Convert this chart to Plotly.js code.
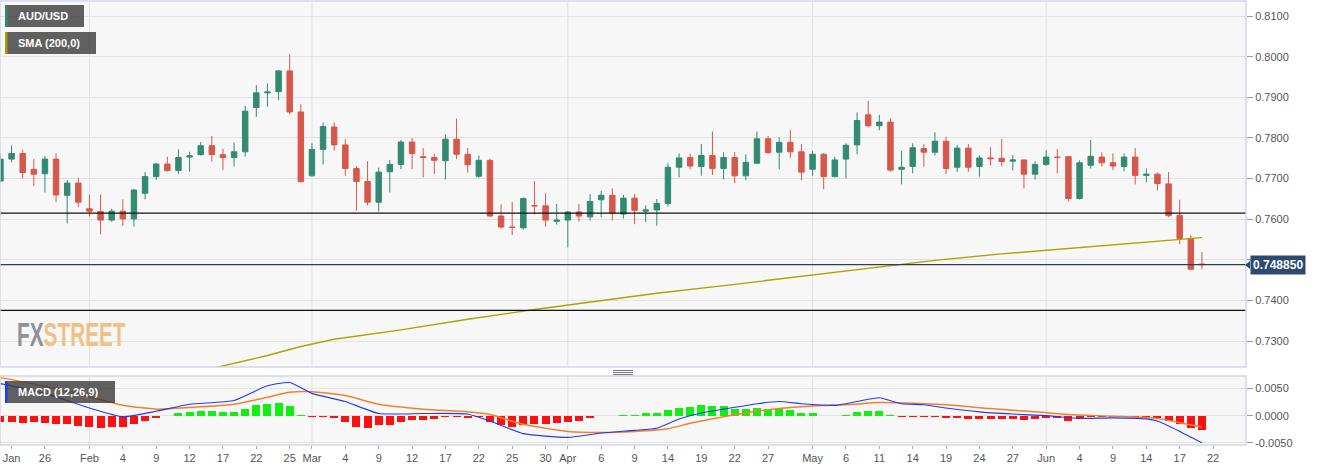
<!DOCTYPE html>
<html><head><meta charset="utf-8">
<script src="https://cdn.plot.ly/plotly-3.0.1.min.js"></script>
<style>html,body{margin:0;padding:0;background:#fff;}#chart{width:1323px;height:471px;}</style>
</head><body><div id="chart"></div>
<script>
// ---------- DATA ----------
const dates = ['2021-01-20','2021-01-21','2021-01-22','2021-01-25','2021-01-26','2021-01-27','2021-01-28','2021-01-29',
'2021-02-01','2021-02-02','2021-02-03','2021-02-04','2021-02-05','2021-02-08','2021-02-09','2021-02-10','2021-02-11','2021-02-12',
'2021-02-15','2021-02-16','2021-02-17','2021-02-18','2021-02-19','2021-02-22','2021-02-23','2021-02-24','2021-02-25','2021-02-26',
'2021-03-01','2021-03-02','2021-03-03','2021-03-04','2021-03-05','2021-03-08','2021-03-09','2021-03-10','2021-03-11','2021-03-12',
'2021-03-15','2021-03-16','2021-03-17','2021-03-18','2021-03-19','2021-03-22','2021-03-23','2021-03-24','2021-03-25','2021-03-26',
'2021-03-29','2021-03-30','2021-03-31','2021-04-01','2021-04-02','2021-04-05','2021-04-06','2021-04-07','2021-04-08','2021-04-09',
'2021-04-12','2021-04-13','2021-04-14','2021-04-15','2021-04-16','2021-04-19','2021-04-20','2021-04-21','2021-04-22','2021-04-23',
'2021-04-26','2021-04-27','2021-04-28','2021-04-29','2021-04-30','2021-05-03','2021-05-04','2021-05-05','2021-05-06','2021-05-07',
'2021-05-10','2021-05-11','2021-05-12','2021-05-13','2021-05-14','2021-05-17','2021-05-18','2021-05-19','2021-05-20','2021-05-21',
'2021-05-24','2021-05-25','2021-05-26','2021-05-27','2021-05-28','2021-05-31','2021-06-01','2021-06-02','2021-06-03','2021-06-04',
'2021-06-07','2021-06-08','2021-06-09','2021-06-10','2021-06-11','2021-06-14','2021-06-15','2021-06-16','2021-06-17','2021-06-18',
'2021-06-21'];

const openP = [.7694,.7748,.7762,.7723,.7712,.7748,.7659,.7689,
.7626,.7619,.7598,.7620,.7601,.7664,.7705,.7736,.7720,.7753,
.7759,.7781,.7759,.7752,.7766,.7875,.7911,.7914,.7965,.7864,
.7707,.7772,.7827,.7783,.7725,.7693,.7642,.7717,.7735,.7790,
.7754,.7752,.7744,.7797,.7760,.7706,.7745,.7608,.7581,.7579,
.7634,.7633,.7595,.7598,.7618,.7606,.7648,.7659,.7613,.7652,
.7620,.7623,.7639,.7728,.7752,.7730,.7757,.7725,.7752,.7707,
.7738,.7798,.7765,.7789,.7766,.7723,.7760,.7705,.7748,.7783,
.7857,.7830,.7839,.7723,.7730,.7774,.7765,.7792,.7728,.7775,
.7730,.7751,.7750,.7743,.7746,.7711,.7735,.7753,.7754,.7651,
.7733,.7753,.7739,.7730,.7753,.7708,.7711,.7687,.7610,.7553,
.7490];
const highP = [.7762,.7782,.7770,.7748,.7756,.7762,.7697,.7702,
.7661,.7661,.7626,.7649,.7674,.7716,.7739,.7754,.7772,.7766,
.7790,.7805,.7773,.7789,.7879,.7930,.7934,.7967,.8006,.7883,
.7787,.7838,.7838,.7797,.7731,.7743,.7727,.7746,.7795,.7800,
.7775,.7761,.7809,.7848,.7775,.7757,.7749,.7637,.7643,.7654,
.7694,.7664,.7638,.7620,.7638,.7662,.7670,.7676,.7660,.7662,
.7634,.7650,.7738,.7762,.7761,.7785,.7816,.7765,.7765,.7760,
.7816,.7805,.7802,.7820,.7785,.7768,.7763,.7754,.7787,.7863,
.7891,.7857,.7848,.7768,.7787,.7785,.7814,.7803,.7783,.7785,
.7757,.7777,.7797,.7758,.7746,.7743,.7770,.7773,.7756,.7745,
.7795,.7765,.7762,.7762,.7775,.7725,.7715,.7716,.7648,.7561,
.7520];
const lowP = [.7690,.7740,.7701,.7682,.7666,.7642,.7590,.7630,
.7607,.7563,.7594,.7584,.7582,.7649,.7697,.7717,.7711,.7717,
.7757,.7742,.7721,.7730,.7754,.7852,.7877,.7893,.7858,.7690,
.7705,.7735,.7769,.7707,.7621,.7634,.7619,.7666,.7723,.7723,
.7703,.7711,.7698,.7748,.7715,.7702,.7607,.7577,.7561,.7575,
.7612,.7582,.7587,.7531,.7594,.7597,.7605,.7597,.7602,.7588,
.7593,.7584,.7631,.7703,.7723,.7707,.7709,.7698,.7689,.7696,
.7736,.7760,.7723,.7751,.7696,.7707,.7674,.7703,.7701,.7760,
.7826,.7819,.7717,.7686,.7713,.7729,.7757,.7711,.7716,.7717,
.7705,.7732,.7730,.7720,.7676,.7698,.7731,.7713,.7644,.7649,
.7725,.7730,.7721,.7718,.7686,.7691,.7671,.7605,.7539,.7477,
.7477];
const closeP = [.7748,.7762,.7715,.7711,.7748,.7660,.7689,.7642,
.7620,.7598,.7620,.7601,.7672,.7705,.7736,.7720,.7752,.7756,
.7781,.7759,.7752,.7766,.7866,.7911,.7913,.7965,.7864,.7693,
.7772,.7828,.7783,.7725,.7693,.7642,.7716,.7735,.7790,.7762,
.7752,.7745,.7797,.7760,.7734,.7745,.7608,.7581,.7580,.7651,
.7633,.7598,.7598,.7618,.7608,.7644,.7659,.7615,.7652,.7622,
.7623,.7639,.7728,.7751,.7731,.7757,.7725,.7752,.7707,.7740,
.7798,.7764,.7789,.7766,.7716,.7760,.7705,.7746,.7782,.7843,
.7830,.7839,.7721,.7728,.7776,.7765,.7792,.7725,.7775,.7728,
.7751,.7749,.7742,.7746,.7711,.7735,.7753,.7752,.7651,.7739,
.7755,.7739,.7731,.7753,.7708,.7711,.7688,.7609,.7553,.7477,
.74885];

const smaDates  = ['2021-02-11','2021-02-16','2021-02-23','2021-02-26','2021-03-03','2021-03-11','2021-03-19','2021-03-29','2021-04-06',
                   '2021-04-13','2021-04-22','2021-04-30','2021-05-10','2021-05-18','2021-05-26','2021-06-03','2021-06-11','2021-06-21'];
const smaValues = [0.7214,0.7233,0.7265,0.7287,0.7305,0.7328,0.7354,0.7378,0.7400,
                   0.7418,0.7440,0.7460,0.7480,0.7499,0.7515,0.7528,0.7541,0.7555];

const macdDates = ['2021-01-20','2021-01-26','2021-02-01','2021-02-04','2021-02-09','2021-02-12','2021-02-18','2021-02-23','2021-02-25',
  '2021-03-01','2021-03-04','2021-03-09','2021-03-15','2021-03-19','2021-03-23','2021-03-26','2021-04-01','2021-04-06','2021-04-09',
  '2021-04-13','2021-04-15','2021-04-19','2021-04-21','2021-04-26','2021-04-28','2021-04-30','2021-05-05','2021-05-07','2021-05-11',
  '2021-05-13','2021-05-17','2021-05-19','2021-05-24','2021-05-27','2021-06-01','2021-06-04','2021-06-09','2021-06-14','2021-06-15',
  '2021-06-17','2021-06-21'];
const macdValues = [0.0059,0.0041,0.0014,-0.0002,0.0008,0.0021,0.0028,0.0055,0.0061,
  0.0041,0.0026,0.0004,0.0004,0.0003,-0.0010,-0.0033,-0.0040,-0.0032,-0.0027,
  -0.0023,-0.0006,0.0005,0.0012,0.0022,0.0026,0.0022,0.0019,0.0026,0.0033,
  0.0022,0.0020,0.0014,0.0007,0.0003,0.0000,-0.0005,-0.0004,-0.0006,-0.0010,
  -0.0029,-0.0050];

const signalDates = ['2021-01-20','2021-01-26','2021-02-01','2021-02-04','2021-02-09','2021-02-12','2021-02-18','2021-02-23','2021-02-25',
  '2021-03-01','2021-03-04','2021-03-09','2021-03-15','2021-03-19','2021-03-23','2021-03-26','2021-04-01','2021-04-06','2021-04-09',
  '2021-04-14','2021-04-16','2021-04-21','2021-04-26','2021-04-28','2021-05-03','2021-05-06','2021-05-11','2021-05-14','2021-05-19',
  '2021-05-25','2021-05-31','2021-06-03','2021-06-09','2021-06-15','2021-06-17','2021-06-21'];
const signalValues = [0.0070,0.0054,0.0035,0.0019,0.0012,0.0015,0.0021,0.0034,0.0043,
  0.0044,0.0037,0.0021,0.0012,0.0007,0.0002,-0.0016,-0.0029,-0.0031,-0.0029,
  -0.0024,-0.0014,-0.0002,0.0008,0.0013,0.0018,0.0020,0.0024,0.0023,0.0020,
  0.0013,0.0007,0.0002,-0.0001,-0.0005,-0.0013,-0.0021];

const histValues = [-0.0011,-0.0011,-0.0013,-0.0012,-0.0013,-0.0016,-0.0016,-0.0019,-0.0021,-0.0023,
 -0.0021,-0.0021,-0.0016,-0.0010,-0.0004,-0.0001,0.0004,0.0006,0.0009,0.0009,
 0.0007,0.0007,0.0012,0.0020,0.0021,0.0024,0.0018,0.0002,-0.0003,-0.0003,
 -0.0005,-0.0012,-0.0020,-0.0023,-0.0017,-0.0017,-0.0011,-0.0008,-0.0008,-0.0006,
 -0.0003,-0.0003,-0.0004,-0.0003,-0.0012,-0.0018,-0.0021,-0.0017,-0.0016,-0.0015,
 -0.0014,-0.0011,-0.0009,-0.0005,-0.0001,-0.0001,0.0002,0.0002,0.0004,0.0004,
 0.0010,0.0015,0.0016,0.0019,0.0018,0.0018,0.0012,0.0012,0.0015,0.0012,
 0.0012,0.0010,0.0005,0.0005,-0.0001,-0.0001,0.0002,0.0006,0.0009,0.0009,
 0.0002,-0.0002,-0.0002,-0.0002,-0.0002,-0.0005,-0.0005,-0.0006,-0.0006,-0.0006,
 -0.0006,-0.0006,-0.0008,-0.0006,-0.0005,-0.0005,-0.0009,-0.0006,-0.0003,-0.0003,
 -0.0003,-0.0003,-0.0003,-0.0003,-0.0005,-0.0009,-0.0016,-0.0023,-0.0027];

const levelLines = [0.7615, 0.7376];
const lastPrice = 0.74885;

const tickDates = ['2021-01-21','2021-01-26','2021-02-01','2021-02-04','2021-02-09','2021-02-12','2021-02-17','2021-02-22','2021-02-25',
  '2021-03-01','2021-03-04','2021-03-09','2021-03-12','2021-03-17','2021-03-22','2021-03-25','2021-03-30','2021-04-01','2021-04-06',
  '2021-04-09','2021-04-14','2021-04-19','2021-04-22','2021-04-27','2021-05-03','2021-05-06','2021-05-11','2021-05-14','2021-05-19',
  '2021-05-24','2021-05-27','2021-06-01','2021-06-04','2021-06-09','2021-06-14','2021-06-17','2021-06-22'];
const tickLabels = ['Jan','26','Feb','4','9','12','17','22','25',
  'Mar','4','9','12','17','22','25','30','Apr','6',
  '9','14','19','22','27','May','6','11','14','19',
  '24','27','Jun','4','9','14','17','22'];
const monthStarts = ['2021-02-01','2021-03-01','2021-04-01','2021-05-03','2021-06-01'];

const mainTicks = [0.73,0.74,0.75,0.76,0.77,0.78,0.79,0.80,0.81];
const macdTicks = [-0.005,0,0.005];

// ---------- helpers ----------
function tIdx(s){
  const [y0,m0,d0] = dates[0].split('-').map(Number);
  const base = Date.UTC(y0,m0-1,d0);
  const [y,m,d] = s.split('-').map(Number);
  const t = Date.UTC(y,m-1,d);
  let n = 0;
  for(let x=base; x<t; x+=864e5){
    const wd = new Date(x+864e5).getUTCDay();
    if(wd!==0 && wd!==6) n++;
  }
  return n;
}
const W = 1323, H = 471, ML = 0, MR = 77, MT = 1, MB = 26;
const PW = W-ML-MR, PH = H-MT-MB;
const px2x = p => (p-ML)/PW;
const py2y = p => (H-MB-p)/PH;

const mainDom = [py2y(367), 1];
const macdDom = [0, py2y(376)];

const xi = dates.map(tIdx);
const FONT = 'Liberation Sans, Arial, sans-serif';

// ---------- traces ----------
const candle = {
  type:'candlestick', x:xi, open:openP, high:highP, low:lowP, close:closeP,
  xaxis:'x', yaxis:'y', whiskerwidth:0,
  increasing:{line:{color:'#338a72',width:1}, fillcolor:'#338a72'},
  decreasing:{line:{color:'#d6584a',width:1}, fillcolor:'#d6584a'},
  hoverinfo:'skip'
};
const sma = {type:'scatter', mode:'lines', x:smaDates.map(tIdx), y:smaValues, xaxis:'x', yaxis:'y',
  line:{color:'#b3a100', width:1.4}, hoverinfo:'skip'};
const hist = {type:'bar', x:xi, y:histValues, xaxis:'x', yaxis:'y2', width:0.72,
  marker:{color:histValues.map(v=>v>=0?'#11ee11':'#ff1010'), line:{width:0}}, hoverinfo:'skip'};
const signal = {type:'scatter', mode:'lines', x:signalDates.map(tIdx), y:signalValues, xaxis:'x', yaxis:'y2',
  line:{color:'#f57f2a', width:1.5, shape:'spline', smoothing:0.6}, hoverinfo:'skip'};
const macd = {type:'scatter', mode:'lines', x:macdDates.map(tIdx), y:macdValues, xaxis:'x', yaxis:'y2',
  line:{color:'#1f3cf0', width:1.1, shape:'spline', smoothing:0.5}, hoverinfo:'skip'};

// ---------- shapes ----------
const shapes = [];
monthStarts.forEach(d=>{
  const x = tIdx(d);
  shapes.push({type:'line', xref:'x', x0:x, x1:x, yref:'paper', y0:mainDom[0], y1:mainDom[1], line:{color:'#e2e2e2',width:1}, layer:'below'});
  shapes.push({type:'line', xref:'x', x0:x, x1:x, yref:'paper', y0:macdDom[0], y1:macdDom[1], line:{color:'#e2e2e2',width:1}, layer:'below'});
});
levelLines.forEach(v=>{
  shapes.push({type:'line', xref:'paper', x0:0, x1:1, yref:'y', y0:v, y1:v, line:{color:'#111',width:1.3}});
});
shapes.push({type:'line', xref:'paper', x0:0, x1:1, yref:'y', y0:lastPrice, y1:lastPrice, line:{color:'#2e3d58',width:1.1}});
shapes.push({type:'rect', xref:'paper', yref:'paper', x0:0, x1:1, y0:mainDom[0], y1:mainDom[1], line:{color:'#d3d8e6',width:1.5}});
shapes.push({type:'rect', xref:'paper', yref:'paper', x0:0, x1:1, y0:macdDom[0], y1:macdDom[1], line:{color:'#d3d8e6',width:1.5}});
function box(x0,y0,x1,y1,stripe){
  shapes.push({type:'rect', xref:'paper', yref:'paper', x0:px2x(x0), x1:px2x(x1), y0:py2y(y1), y1:py2y(y0),
    fillcolor:'rgba(58,58,58,0.8)', line:{width:0}});
  shapes.push({type:'rect', xref:'paper', yref:'paper', x0:px2x(x0), x1:px2x(x0+2.5), y0:py2y(y1), y1:py2y(y0),
    fillcolor:stripe, line:{width:0}});
}
box(5,5,84,27,'#2e8b74');
box(5,32,96,54,'#a99b00');
box(5,381,115,403,'#1a3cff');
[370.5,372.5,374.5].forEach(py=>{
  shapes.push({type:'line', xref:'paper', yref:'paper', x0:px2x(613), x1:px2x(633), y0:py2y(py), y1:py2y(py), line:{color:'#777',width:1}});
});
shapes.push({type:'path', xref:'paper', yref:'paper',
  path:`M ${px2x(1245)} ${py2y(265)} L ${px2x(1250)} ${py2y(261)} L ${px2x(1250)} ${py2y(269)} Z`,
  fillcolor:'#2c4a72', line:{width:0}});

// ---------- annotations ----------
const annotations = [
  {xref:'paper', yref:'paper', x:px2x(16), y:py2y(16), xanchor:'left', yanchor:'middle', showarrow:false,
   text:'<b>AUD/USD</b>', font:{family:FONT, size:11, color:'#ffffff'}},
  {xref:'paper', yref:'paper', x:px2x(16), y:py2y(43), xanchor:'left', yanchor:'middle', showarrow:false,
   text:'<b>SMA (200,0)</b>', font:{family:FONT, size:11, color:'#ffffff'}},
  {xref:'paper', yref:'paper', x:px2x(16), y:py2y(392), xanchor:'left', yanchor:'middle', showarrow:false,
   text:'<b>MACD (12,26,9)</b>', font:{family:FONT, size:11, color:'#ffffff'}},
  {xref:'paper', yref:'y', x:px2x(1250), y:lastPrice, xanchor:'left', yanchor:'middle', showarrow:false,
   text:'<b>'+lastPrice.toFixed(6)+'</b>', bgcolor:'#2c4a72', borderpad:2,
   font:{family:FONT, size:12, color:'#ffffff'}},
  {xref:'paper', yref:'paper', x:px2x(15), y:py2y(334), xanchor:'left', yanchor:'middle', showarrow:false,
   text:'<b><span style="color:#8f9098">FX</span><span style="color:#f1c085">STREET</span></b>',
   font:{family:'Liberation Sans, Arial, sans-serif', size:33}, name:'wm'}
];

const layout = {
  width:W, height:H, margin:{l:ML, r:MR, t:MT, b:MB},
  paper_bgcolor:'#ffffff', plot_bgcolor:'#f7f7f7', showlegend:false,
  font:{family:FONT, size:11, color:'#555'},
  xaxis:{domain:[0,1], anchor:'y2', range:[-0.04, 111.96], tickmode:'array',
    tickvals:tickDates.map(tIdx), ticktext:tickLabels, showgrid:false, zeroline:false,
    ticks:'outside', ticklen:3, tickcolor:'#aaa', tickfont:{family:FONT,size:11,color:'#555'},
    rangeslider:{visible:false}, showline:false, fixedrange:true},
  yaxis:{domain:mainDom, anchor:'x', side:'right', range:[0.72367, 0.81369], tickmode:'array',
    tickvals:mainTicks, ticktext:mainTicks.map(v=>v.toFixed(4)), gridcolor:'#e2e2e2', zeroline:false,
    ticks:'outside', ticklen:6, tickcolor:'#999', tickfont:{family:FONT,size:11,color:'#555'}, showline:false},
  yaxis2:{domain:macdDom, anchor:'x', side:'right', range:[-0.0054, 0.0073], tickmode:'array',
    tickvals:macdTicks, ticktext:macdTicks.map(v=>v.toFixed(4)), gridcolor:'#e2e2e2', zeroline:false,
    ticks:'outside', ticklen:6, tickcolor:'#999', tickfont:{family:FONT,size:11,color:'#555'}, showline:false},
  bargap:0, shapes:shapes, annotations:annotations
};

Plotly.newPlot('chart', [candle, sma, hist, signal, macd], layout, {staticPlot:true, displayModeBar:false}).then(gd=>{
  // condense the watermark text horizontally (it is a narrow typeface in the original)
  gd.querySelectorAll('text.annotation-text').forEach(t=>{
    if(t.textContent.indexOf('STREET')>=0){
      t.style.transformBox = 'fill-box';
      t.style.transformOrigin = '0% 50%';
      t.style.transform = 'scaleX(0.63)';
    }
  });
});
</script></body></html>
